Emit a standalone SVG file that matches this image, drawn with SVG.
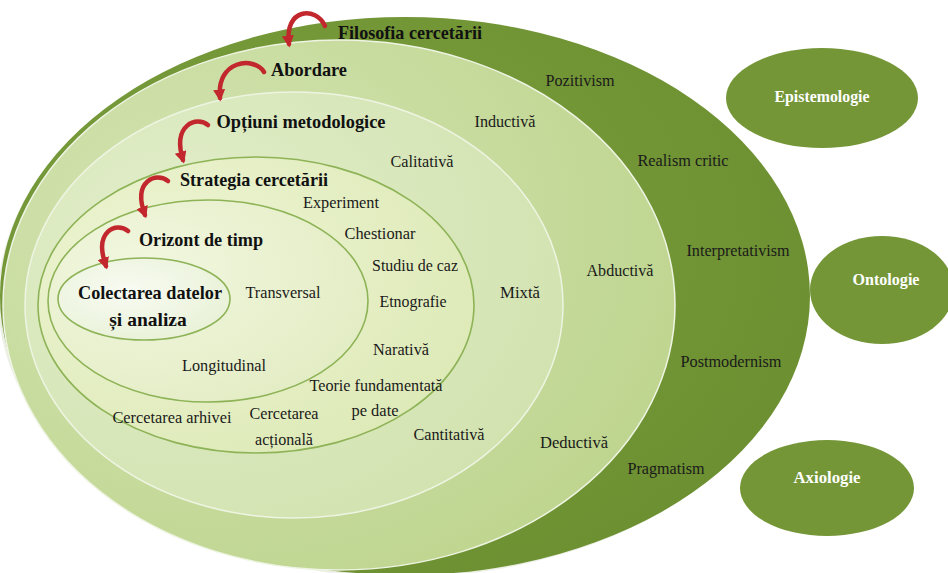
<svg xmlns="http://www.w3.org/2000/svg" width="948" height="573" viewBox="0 0 948 573">
<defs>
  <radialGradient id="gOuter" cx="0.35" cy="0.4" r="0.75">
    <stop offset="0" stop-color="#7c9f3e"/>
    <stop offset="1" stop-color="#6b8e30"/>
  </radialGradient>
  <radialGradient id="gAbord" cx="0.3" cy="0.35" r="0.8">
    <stop offset="0" stop-color="#d4e4b2"/>
    <stop offset="1" stop-color="#bdd48d"/>
  </radialGradient>
  <radialGradient id="gOpt" cx="0.3" cy="0.35" r="0.8">
    <stop offset="0" stop-color="#e2eecb"/>
    <stop offset="1" stop-color="#d1e2ae"/>
  </radialGradient>
  <radialGradient id="gStrat" cx="0.3" cy="0.35" r="0.8">
    <stop offset="0" stop-color="#eef5d4"/>
    <stop offset="1" stop-color="#dde9b6"/>
  </radialGradient>
  <radialGradient id="gOriz" cx="0.3" cy="0.35" r="0.8">
    <stop offset="0" stop-color="#f2f7e0"/>
    <stop offset="1" stop-color="#e2ecc2"/>
  </radialGradient>
  <radialGradient id="gCol" cx="0.4" cy="0.4" r="0.7">
    <stop offset="0" stop-color="#f8fbf2"/>
    <stop offset="1" stop-color="#e8f1d6"/>
  </radialGradient>
  <marker id="ah" markerUnits="userSpaceOnUse" markerWidth="12" markerHeight="12" viewBox="0 0 10 10" refX="7" refY="5" orient="auto">
    <path d="M0,0 L10,5 L0,10 z" fill="#c2272d"/>
  </marker>
  <style>
    .lbl{font-family:"Liberation Serif","Times New Roman",serif;font-weight:bold;font-size:19.5px;fill:#111;text-anchor:middle}
    .itm{font-family:"Liberation Serif","Times New Roman",serif;font-size:17.5px;fill:#1a1a1a;text-anchor:middle}
    .side{font-family:"Liberation Serif","Times New Roman",serif;font-weight:bold;font-size:17.5px;fill:#ffffff;text-anchor:middle}
    .arr{fill:none;stroke:#c2272d;stroke-width:4.5;stroke-linecap:round;marker-end:url(#ah)}
    .sideE{fill:#749637}
  </style>
</defs>

<rect width="948" height="573" fill="#ffffff"/>

<g id="filosofia">
  <ellipse cx="402" cy="299" rx="404" ry="278" fill="#dde4d2" opacity="0.6"/>
  <ellipse cx="405" cy="296" rx="405" ry="279" fill="url(#gOuter)"/>
  <text class="lbl" x="410" y="39" textLength="144" lengthAdjust="spacingAndGlyphs">Filosofia cercetării</text>
  <text class="itm" x="580" y="86" textLength="69" lengthAdjust="spacingAndGlyphs">Pozitivism</text>
  <text class="itm" x="683" y="166" textLength="91" lengthAdjust="spacingAndGlyphs">Realism critic</text>
  <text class="itm" x="738" y="256" textLength="103" lengthAdjust="spacingAndGlyphs">Interpretativism</text>
  <text class="itm" x="731" y="367" textLength="101" lengthAdjust="spacingAndGlyphs">Postmodernism</text>
  <text class="itm" x="666" y="474" textLength="77" lengthAdjust="spacingAndGlyphs">Pragmatism</text>
</g>

<g id="abordare">
  <ellipse cx="339" cy="305" rx="336" ry="265" fill="url(#gAbord)" stroke="#eef4e2" stroke-width="1.5"/>
  <text class="lbl" x="309" y="76" textLength="76" lengthAdjust="spacingAndGlyphs">Abordare</text>
  <text class="itm" x="505" y="127" textLength="61" lengthAdjust="spacingAndGlyphs">Inductivă</text>
  <text class="itm" x="620" y="276" textLength="67" lengthAdjust="spacingAndGlyphs">Abductivă</text>
  <text class="itm" x="574" y="448" textLength="68" lengthAdjust="spacingAndGlyphs">Deductivă</text>
</g>

<g id="optiuni">
  <ellipse cx="294" cy="305" rx="269" ry="213" fill="url(#gOpt)" stroke="#eef4e2" stroke-width="1.5"/>
  <text class="lbl" x="301" y="128" textLength="169" lengthAdjust="spacingAndGlyphs">Opțiuni metodologice</text>
  <text class="itm" x="422" y="167" textLength="63" lengthAdjust="spacingAndGlyphs">Calitativă</text>
  <text class="itm" x="520" y="298" textLength="40" lengthAdjust="spacingAndGlyphs">Mixtă</text>
  <text class="itm" x="449" y="440" textLength="71" lengthAdjust="spacingAndGlyphs">Cantitativă</text>
</g>

<g id="strategia">
  <ellipse cx="256" cy="305" rx="218" ry="148" fill="url(#gStrat)" stroke="#8db356" stroke-width="1.6"/>
  <text class="lbl" x="254" y="186" textLength="148" lengthAdjust="spacingAndGlyphs">Strategia cercetării</text>
  <text class="itm" x="341" y="208" textLength="76" lengthAdjust="spacingAndGlyphs">Experiment</text>
  <text class="itm" x="380" y="239" textLength="71" lengthAdjust="spacingAndGlyphs">Chestionar</text>
  <text class="itm" x="415" y="271" textLength="86" lengthAdjust="spacingAndGlyphs">Studiu de caz</text>
  <text class="itm" x="413" y="307" textLength="67" lengthAdjust="spacingAndGlyphs">Etnografie</text>
  <text class="itm" x="401" y="355" textLength="56" lengthAdjust="spacingAndGlyphs">Narativă</text>
  <text class="itm" x="376" y="391" textLength="133" lengthAdjust="spacingAndGlyphs">Teorie fundamentată</text>
  <text class="itm" x="375" y="416" textLength="47" lengthAdjust="spacingAndGlyphs">pe date</text>
  <text class="itm" x="172" y="423" textLength="119" lengthAdjust="spacingAndGlyphs">Cercetarea arhivei</text>
  <text class="itm" x="284" y="419" textLength="69" lengthAdjust="spacingAndGlyphs">Cercetarea</text>
  <text class="itm" x="284" y="445" textLength="58" lengthAdjust="spacingAndGlyphs">acțională</text>
</g>

<g id="orizont">
  <ellipse cx="208" cy="301" rx="160" ry="101" fill="url(#gOriz)" stroke="#8db356" stroke-width="1.6"/>
  <text class="lbl" x="201" y="246" textLength="124" lengthAdjust="spacingAndGlyphs">Orizont de timp</text>
  <text class="itm" x="283" y="298" textLength="75" lengthAdjust="spacingAndGlyphs">Transversal</text>
  <text class="itm" x="224" y="371" textLength="84" lengthAdjust="spacingAndGlyphs">Longitudinal</text>
</g>

<g id="colectarea">
  <ellipse cx="144" cy="299" rx="86" ry="41" fill="url(#gCol)" stroke="#8db356" stroke-width="1.6"/>
  <text class="lbl" x="150" y="299" textLength="144" lengthAdjust="spacingAndGlyphs">Colectarea datelor</text>
  <text class="lbl" x="148" y="326">și analiza</text>
</g>

<g id="epistemologie">
  <ellipse class="sideE" cx="822" cy="98" rx="96" ry="50"/>
  <text class="side" x="822" y="102" textLength="95" lengthAdjust="spacingAndGlyphs">Epistemologie</text>
</g>
<g id="ontologie">
  <ellipse class="sideE" cx="882" cy="290" rx="72" ry="54"/>
  <text class="side" x="886" y="285" textLength="67" lengthAdjust="spacingAndGlyphs">Ontologie</text>
</g>
<g id="axiologie">
  <ellipse class="sideE" cx="827" cy="488" rx="87" ry="48"/>
  <text class="side" x="827" y="483" textLength="67" lengthAdjust="spacingAndGlyphs">Axiologie</text>
</g>

<g id="connectors">
  <path class="arr" d="M325,26 C316,6 284,8 289,44"/>
  <path class="arr" d="M264,72 C254,56 216,60 220,98"/>
  <path class="arr" d="M208,125 C197,116 172,124 183,160"/>
  <path class="arr" d="M168,181 C157,172 132,180 145,215"/>
  <path class="arr" d="M128,231 C117,222 93,230 106,266"/>
</g>
</svg>
